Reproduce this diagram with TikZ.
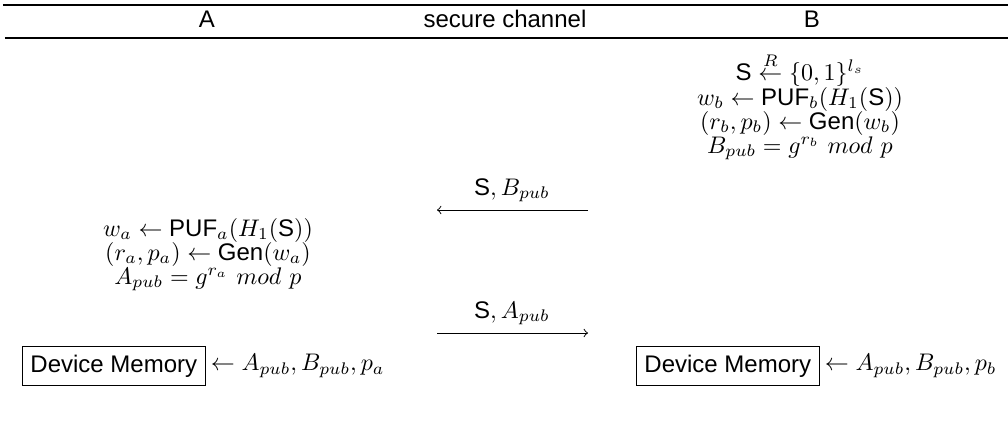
\documentclass[tikz,border=0pt]{standalone}
\usepackage{amsmath}
\usepackage{fontspec}
\setsansfont{Liberation Sans}
\begin{document}
\begin{tikzpicture}[x=0.41667pt,y=-0.41667pt,
  head/.style={inner sep=0pt, font=\sffamily},
  mline/.style={inner sep=0pt, anchor=base},
  memory/.style={draw, font=\sffamily, inner sep=3.333pt, line width=0.4pt},
  msg/.style={->, line width=0.4pt},
  hrule/.style={line width=0.6pt}]
\useasboundingbox (0,0) rectangle (1008,428);

% header rules
\coordinate (t1) at (3,5);   \coordinate (t2) at (1008,5);
\coordinate (b1) at (5,38);  \coordinate (b2) at (1008,38);
\draw[hrule] (t1) -- (t2);
\draw[hrule] (b1) -- (b2);

% header
\node[head, anchor=base] (hA) at (207,27) {A};
\node[head, anchor=base] (hC) at (505,27) {secure channel};
\node[head, anchor=base] (hB) at (812,27) {B};

% party B computations
\node[mline] (b1l) at (800,80)  {$\mathsf{S} \stackrel{R}{\leftarrow} \{0,1\}^{l_s}$};
\node[mline] (b2l) at (800,105) {$w_b \leftarrow \mathsf{PUF}_b(H_1(\mathsf{S}))$};
\node[mline] (b3l) at (800,129) {$(r_b,p_b) \leftarrow \mathsf{Gen}(w_b)$};
\node[mline] (b4l) at (800,153) {$B_{pub} = g^{r_b}\ mod\ p$};

% message B -> A
\coordinate (m1s) at (588,210);
\coordinate (m1e) at (437,210);
\draw[msg] (m1s) -- (m1e);
\node[mline] (m1l) at (512,195) {$\mathsf{S}, B_{pub}$};

% party A computations
\node[mline] (a1l) at (208,236) {$w_a \leftarrow \mathsf{PUF}_a(H_1(\mathsf{S}))$};
\node[mline] (a2l) at (208,260) {$(r_a,p_a) \leftarrow \mathsf{Gen}(w_a)$};
\node[mline] (a3l) at (208,284) {$A_{pub} = g^{r_a}\ mod\ p$};

% message A -> B
\coordinate (m2s) at (437,333);
\coordinate (m2e) at (588,333);
\draw[msg] (m2s) -- (m2e);
\node[mline] (m2l) at (512,318) {$\mathsf{S}, A_{pub}$};

% device memories
\node[memory, anchor=west] (memA) at (22,366) {Device Memory};
\node[anchor=west, inner sep=2pt] (stA) at (memA.east) {$\leftarrow A_{pub}, B_{pub}, p_a$};
\node[memory, anchor=west] (memB) at (636,366) {Device Memory};
\node[anchor=west, inner sep=2pt] (stB) at (memB.east) {$\leftarrow A_{pub}, B_{pub}, p_b$};
\end{tikzpicture}
\end{document}
